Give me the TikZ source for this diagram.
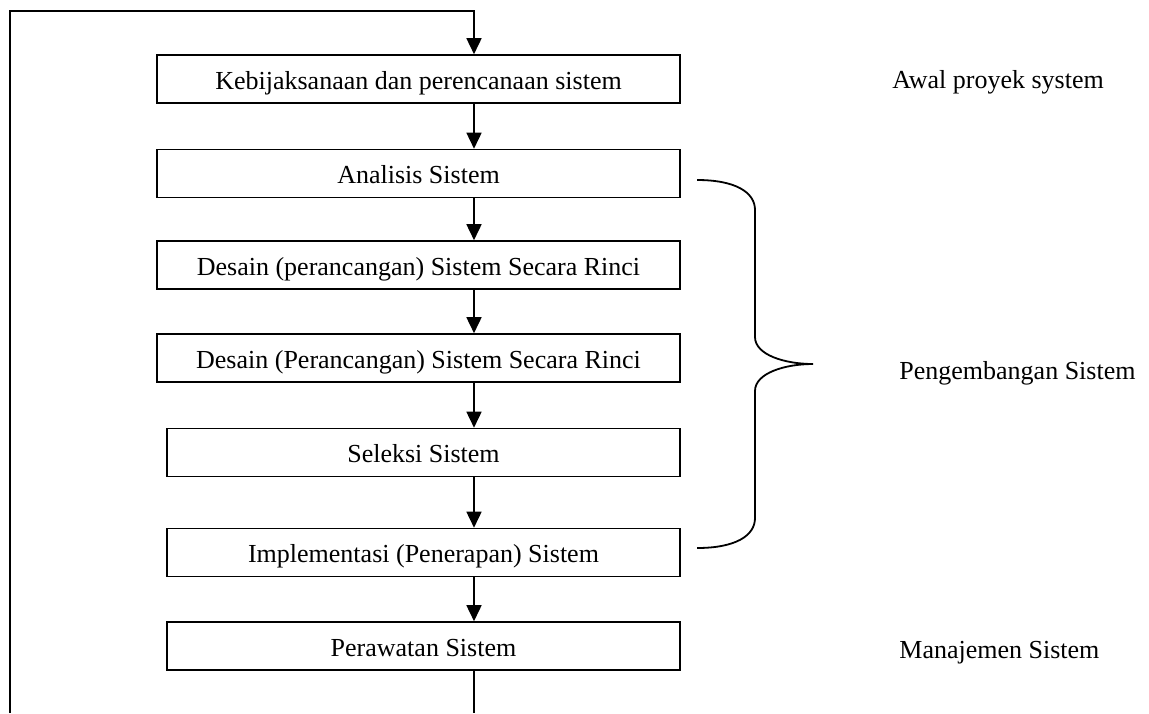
\documentclass[tikz,border=0pt]{standalone}
\usepackage{fontspec}
\setmainfont{Liberation Serif}
\usepackage{tikz}
\usetikzlibrary{positioning,arrows.meta,calc}
\tikzset{
  stepbox/.style={draw, line width=0.8pt, minimum width=261.5pt,
                  minimum height=24pt, inner sep=0pt, text height=10pt, text depth=0pt,
                  font=\fontsize{13pt}{15pt}\selectfont},
  stepboxnarrow/.style={stepbox, minimum width=256.5pt},
  phaselabel/.style={anchor=base west, inner sep=0pt, font=\fontsize{13pt}{15pt}\selectfont},
  flowline/.style={line width=0.8pt},
  flowarrow/.style={flowline, -{Triangle[length=8pt, width=7.5pt]}},
  bracepath/.style={line width=0.9pt},
}

\begin{document}
\begin{tikzpicture}[x=0.5pt, y=-0.5pt]
\useasboundingbox (0,0) rectangle (1149,713);
\clip (0,0) rectangle (1149,713);
%% Nodes
\node[stepbox] (b1) at (418.5,79) {Kebijaksanaan dan perencanaan sistem};
\node[stepbox] (b2) at (418.5,173.5) {Analisis Sistem};
\node[stepbox] (b3) at (418.5,265) {Desain (perancangan) Sistem Secara Rinci};
\node[stepbox] (b4) at (418.5,358) {Desain (Perancangan) Sistem Secara Rinci};
\node[stepboxnarrow] (b5) at (423.5,452.5) {Seleksi Sistem};
\node[stepboxnarrow] (b6) at (423.5,552.5) {Implementasi (Penerapan) Sistem};
\node[stepboxnarrow] (b7) at (423.5,646) {Perawatan Sistem};
%% Phase labels
\node[phaselabel] (awal) at (892,88) {Awal proyek system};
\node[phaselabel] (kembang) at (899,379) {Pengembangan Sistem};
\node[phaselabel] (manaj) at (899,658) {Manajemen Sistem};
%% Edges
\coordinate (ax) at (474,0);
\draw[flowarrow] (b1.south -| ax) -- (b2.north -| ax);
\draw[flowarrow] (b2.south -| ax) -- (b3.north -| ax);
\draw[flowarrow] (b3.south -| ax) -- (b4.north -| ax);
\draw[flowarrow] (b4.south -| ax) -- (b5.north -| ax);
\draw[flowarrow] (b5.south -| ax) -- (b6.north -| ax);
\draw[flowarrow] (b6.south -| ax) -- (b7.north -| ax);
%% Feedback loop
\coordinate (loopR) at (474,713);
\coordinate (loopL) at (10,713);
\coordinate (loopTL) at (10,11);
\draw[flowline] (b7.south -| ax) -- (loopR);
\draw[flowarrow] (loopL) -- (loopTL) -| (b1.north -| ax);
%% Brace
\coordinate (brTop) at (697,180);
\coordinate (brTip) at (813,364);
\coordinate (brBot) at (697,548);
\draw[bracepath] (brTop) .. controls (735,180) and (755,192) .. (755,210)
  -- (755,337) .. controls (755,355) and (785,364) .. (brTip)
  .. controls (785,364) and (755,373) .. (755,391)
  -- (755,518) .. controls (755,536) and (735,548) .. (brBot);
\end{tikzpicture}
\end{document}
